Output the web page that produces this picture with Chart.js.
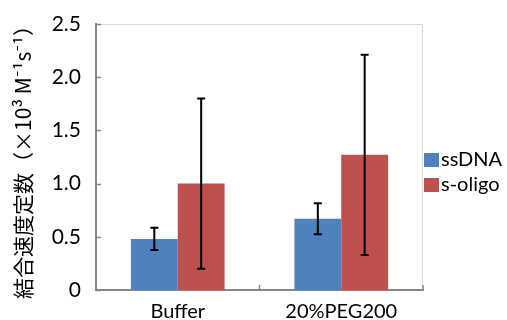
<!DOCTYPE html>
<html>
<head>
<meta charset="utf-8">
<script src="https://cdn.jsdelivr.net/npm/chart.js@4"></script>
<style>
    html, body { margin: 0; padding: 0; background: #ffffff; }
    #wrap { width: 507px; height: 320px; position: relative; }
</style>
</head>
<body>
<div id="wrap"><canvas id="rateChart"></canvas></div>
<script>
const categories = ["Buffer", "20%PEG200"];
const seriesNames = ["ssDNA", "s-oligo"];
const ssdnaValues = [0.48, 0.67];
const ssdnaErrors = [0.105, 0.145];
const soligoValues = [1.0, 1.27];
const soligoErrors = [0.8, 0.94];
const yTicks = [0, 0.5, 1.0, 1.5, 2.0, 2.5];

const AXIS = "#868686";
const FONT = "Lato, 'Noto Sans', sans-serif";

/* error bars + inward ticks + plot border */
const extras = {
    id: "extras",
    beforeDatasetsDraw(chart) {
        const { ctx, chartArea: a } = chart;
        ctx.save();
        ctx.strokeStyle = "#d9d9d9";
        ctx.lineWidth = 1;
        ctx.beginPath();
        ctx.moveTo(a.left, a.top + 0.5);
        ctx.lineTo(a.right - 0.5, a.top + 0.5);
        ctx.lineTo(a.right - 0.5, a.bottom);
        ctx.stroke();
        ctx.restore();
    },
    afterDatasetsDraw(chart) {
        const { ctx, chartArea: a, scales } = chart;
        const y = scales.y, x = scales.x;
        ctx.save();
        chart.data.datasets.forEach((ds, i) => {
            const meta = chart.getDatasetMeta(i);
            meta.data.forEach((bar, j) => {
                const v = ds.data[j], e = ds.errors[j];
                const top = y.getPixelForValue(v + e);
                const bot = y.getPixelForValue(v - e);
                ctx.strokeStyle = "#000000";
                ctx.lineWidth = 2;
                ctx.beginPath();
                ctx.moveTo(bar.x, top);
                ctx.lineTo(bar.x, bot);
                ctx.moveTo(bar.x - 4, top);
                ctx.lineTo(bar.x + 4, top);
                ctx.moveTo(bar.x - 4, bot);
                ctx.lineTo(bar.x + 4, bot);
                ctx.stroke();
            });
        });

        // inward tick marks
        ctx.strokeStyle = AXIS;
        ctx.lineWidth = 1.5;
        ctx.beginPath();
        yTicks.forEach(t => {
            const py = Math.round(y.getPixelForValue(t)) + 0.5;
            ctx.moveTo(a.left, py);
            ctx.lineTo(a.left + 5, py);
        });
        for (let k = 0; k <= categories.length; k++) {
            const px = x.getPixelForValue(k - 0.5);
            ctx.moveTo(px, a.bottom);
            ctx.lineTo(px, a.bottom - 5);
        }
        ctx.stroke();

        // legend
        ctx.font = "20px " + FONT;
        ctx.textBaseline = "middle";
        ctx.textAlign = "left";
        chart.data.datasets.forEach((ds, i) => {
            const by = 153 + i * 25;
            ctx.fillStyle = ds.backgroundColor;
            ctx.fillRect(a.right + 1, by, 15, 14);
            ctx.fillStyle = "#000000";
            ctx.fillText(ds.label, a.right + 18, by + 7);
        });
        ctx.restore();
    }
};

const ctx = document.getElementById("rateChart").getContext("2d");

new Chart(ctx, {
    type: "bar",
    data: {
        labels: categories,
        datasets: [
            {
                label: seriesNames[0],
                data: ssdnaValues,
                errors: ssdnaErrors,
                backgroundColor: "#4f81bd",
                categoryPercentage: 0.573,
                barPercentage: 1.0
            },
            {
                label: seriesNames[1],
                data: soligoValues,
                errors: soligoErrors,
                backgroundColor: "#c0504d",
                categoryPercentage: 0.573,
                barPercentage: 1.0
            }
        ]
    },
    options: {
        responsive: true,
        maintainAspectRatio: false,
        animation: false,
        layout: {
            padding: { top: 24, right: 84, left: 0, bottom: 0 }
        },
        plugins: {
            legend: { display: false },
            tooltip: { enabled: false }
        },
        scales: {
            x: {
                grid: { display: false },
                border: { color: AXIS, width: 2 },
                ticks: {
                    color: "#000000",
                    padding: 2,
                    font: { family: FONT, size: 20 }
                },
                afterFit: s => { s.height = 30; }
            },
            y: {
                min: 0,
                max: 2.5,
                grid: { display: false },
                border: { color: AXIS, width: 2 },
                afterBuildTicks: s => { s.ticks = yTicks.map(v => ({ value: v })); },
                ticks: {
                    color: "#000000",
                    padding: 7,
                    font: { family: FONT, size: 21 },
                    callback: v => v === 0 ? "0" : v.toFixed(1)
                },
                title: {
                    display: true,
                    text: "結合速度定数（×10³ M⁻¹s⁻¹）",
                    color: "#000000",
                    padding: { top: 10, bottom: 0 },
                    font: { family: "'Noto Sans CJK JP', " + FONT, size: 21 }
                },
                afterFit: s => { s.width = 96; }
            }
        }
    },
    plugins: [extras]
});
</script>
</body>
</html>
